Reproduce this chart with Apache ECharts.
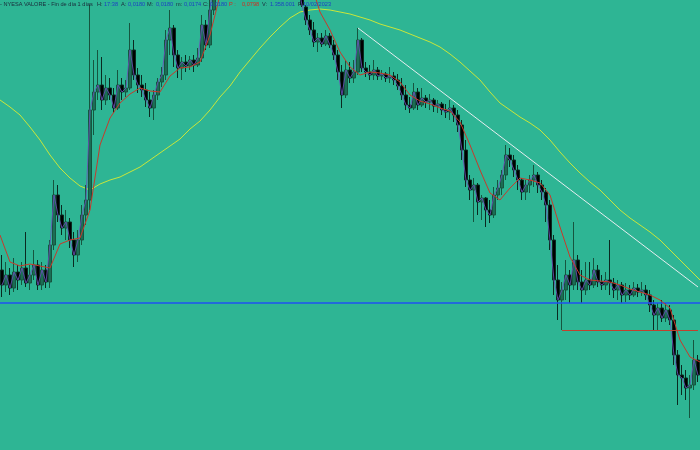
<!DOCTYPE html>
<html>
<head>
<meta charset="utf-8">
<script src="https://cdn.jsdelivr.net/npm/echarts@6/dist/echarts.min.js"></script>
<style>
html,body{margin:0;padding:0;background:#2eb594;}
#c{width:700px;height:450px;}
</style>
</head>
<body>
<div id="c"></div>
<script>
// Prices in units of 0.00001 EUR
const opens = [1905,1890,1900,1887,1903,1895,1907,1892,1900,1910,1890,1905,
1893,1930,1980,1960,1947,1953,1935,1920,1935,1960,1975,
2065,2083,2090,2075,2087,2080,2067,2090,2083,2087,2125,
2100,2090,2085,2075,2067,2080,2093,2100,2135,2147,2120,2107,2113,2109,2115,2110,2117,2150,2130,2165,
2195,2215,2235,2255,2270,2285,2295,2305,2300,2290,2295,2280,2270,2275,2260,2250,2245,2235,2225,2215,2205,
2190,
2168,2155,2145,2133,2137,2131,2139,2130,2120,2103,2080,2105,2097,2103,2135,2107,
2103,2100,2105,2099,2101,2097,2099,2095,2089,2080,2070,2067,2083,2070,2077,2073,2075,2069,2071,2065,2063,2067,2060,2050,2025,
1995,1985,1990,1973,1977,1965,1960,1980,1987,2000,2020,2015,2005,1995,1983,1990,1995,2000,1990,1983,1970,1935,1895,
1875,1885,1900,1890,1915,1893,1885,1895,1890,1905,1893,1890,1895,1892,1885,1890,1880,1885,1880,1887,1883,1885,1880,
1870,1860,1867,1857,1865,1855,1820,1800,1797,1787,1790,1815];
const closes = [1890,1900,1887,1903,1895,1907,1892,1900,1910,1890,1905,1893,
1930,1980,1960,1947,1953,1935,1920,1935,1960,1975,2065,
2083,2090,2075,2087,2080,2067,2090,2083,2087,2125,2100,
2090,2085,2075,2067,2080,2093,2100,2135,2147,2120,2107,2113,2109,2115,2110,2117,2150,2130,2165,2195,
2215,2235,2255,2270,2285,2295,2305,2300,2290,2295,2280,2270,2275,2260,2250,2245,2235,2225,2215,2205,2190,
2170,
2155,2145,2133,2137,2131,2139,2130,2120,2103,2080,2105,2097,2103,2135,2107,2103,
2100,2105,2099,2101,2097,2099,2095,2089,2080,2070,2067,2083,2070,2077,2073,2075,2069,2071,2065,2063,2067,2060,2050,2025,1995,
1985,1990,1973,1977,1965,1960,1980,1987,2000,2020,2015,2005,1995,1983,1990,1995,2000,1990,1983,1970,1935,1895,1875,
1885,1900,1890,1915,1893,1885,1895,1890,1905,1893,1890,1895,1892,1885,1890,1880,1885,1880,1887,1883,1885,1880,1870,
1860,1867,1857,1865,1855,1820,1800,1797,1787,1790,1815,1800];
const lows = [1878,1883,1880,1883,1885,1890,1888,1885,1895,1885,1885,1887,
1887,1925,1953,1940,1935,1927,1908,1913,1930,1950,1965,
2040,2075,2065,2070,2075,2062,2065,2075,2078,2085,2095,
2082,2078,2068,2058,2055,2075,2088,2095,2120,2108,2097,2095,2103,2105,2103,2108,2113,2125,2127,2160,
2185,2205,2225,2245,2260,2275,2285,2290,2280,2282,2270,2260,2262,2250,2240,2235,2225,2215,2205,2195,2180,
2168,
2150,2140,2128,2123,2128,2129,2127,2115,2095,2067,2077,2092,2092,2100,2103,2098,
2095,2095,2095,2095,2093,2092,2090,2085,2075,2065,2062,2065,2065,2068,2067,2065,2063,2062,2060,2057,2055,2053,2043,2015,1988,
1975,1953,1960,1955,1948,1952,1957,1975,1980,1995,2008,1998,1985,1975,1975,1982,1988,1982,1975,1953,1925,1880,1855,
1845,1875,1872,1885,1885,1872,1880,1885,1887,1888,1885,1885,1880,1877,1875,1872,1873,1875,1878,1878,1879,1875,1863,
1845,1845,1853,1853,1850,1810,1770,1780,1775,1757,1785,1793];
const highs = [1920,1913,1907,1917,1910,1913,1943,1910,1925,1915,1913,1910,
1935,1995,1990,1970,1965,1957,1943,1945,1970,1990,2170,
2115,2125,2118,2100,2097,2087,2105,2097,2095,2152,2135,
2107,2100,2092,2083,2085,2097,2108,2145,2165,2150,2125,2118,2120,2119,2120,2127,2160,2155,2185,2215,
2228,2248,2268,2282,2298,2308,2318,2315,2312,2306,2305,2290,2288,2285,2270,2262,2255,2245,2235,2225,2215,
2200,
2170,2160,2153,2142,2142,2145,2142,2135,2125,2110,2115,2113,2115,2147,2137,2113,
2110,2115,2108,2105,2103,2108,2103,2101,2097,2090,2078,2092,2087,2087,2080,2081,2077,2075,2073,2071,2075,2070,2065,2055,2035,
2000,1997,1992,1980,1978,1975,1988,1995,2005,2030,2027,2020,2010,1997,1995,2000,2010,2003,1995,1987,1975,1940,1910,
1893,1915,1905,1953,1920,1905,1913,1913,1917,1910,1900,1903,1935,1897,1895,1893,1892,1890,1893,1891,1893,1890,1885,
1875,1872,1875,1872,1870,1860,1825,1810,1805,1800,1835,1820];

// moving averages sampled on an evenly spaced grid of 71 points
const maRed = [1940,1913,1909,1911,1909,1907,1931,1935,1937,1965,2030,2057,2072,2081,2087,2084,2083,2099,2107,2108,
2113,2140,2180,2205,2225,2245,2260,2270,2275,2265,2235,2195,2163,2145,2123,2108,2100,2103,2102,2100,
2093,2080,2074,2071,2067,2064,2053,2030,2005,1982,1975,1987,1997,1995,1992,1980,1948,1918,1900,1895,
1894,1893,1890,1886,1883,1880,1875,1867,1835,1818,1813];
const maYellow = [2075,2068,2060,2048,2035,2020,2007,1997,1989,1985,1991,1995,1998,2003,2008,2015,2022,2029,2036,2046,
2054,2065,2078,2089,2103,2115,2127,2138,2148,2157,2163,2165,2166,2165,2163,2161,2158,2155,2151,2148,
2145,2141,2137,2133,2128,2121,2113,2104,2095,2083,2072,2065,2058,2052,2045,2035,2023,2012,2002,1993,
1985,1975,1965,1957,1950,1943,1935,1925,1915,1905,1895];

const supportLevel = 1872;   // blue horizontal
const lowLevel = 1845;       // red horizontal from candle 140
const lowStart = 140;
const trendStart = [89, 2147];
const trendEnd = [174, 1888];

const categories = opens.map((_, i) => String(i + 1));
const maCategories = maRed.map((_, i) => String(i));

const candles = opens.map((o, i) => [o, closes[i], lows[i], highs[i]]);

const chart = echarts.init(document.getElementById('c'), null, {renderer: 'canvas'});

const header = [
  {t: '- NYESA VALORE - Fin de día 1 días', x: 0, c: '#1b2a3a'},
  {t: 'H:', x: 97, c: '#1b2a3a'}, {t: '17:38', x: 104, c: '#1d3fc4'},
  {t: 'A:', x: 121, c: '#1b2a3a'}, {t: '0,0180', x: 128, c: '#1d3fc4'},
  {t: 'M:', x: 147, c: '#1b2a3a'}, {t: '0,0180', x: 156, c: '#1d3fc4'},
  {t: 'm:', x: 176, c: '#1b2a3a'}, {t: '0,0174', x: 184, c: '#1d3fc4'},
  {t: 'C:', x: 203, c: '#1b2a3a'}, {t: '0,0180', x: 210, c: '#1d3fc4'},
  {t: 'P :', x: 229, c: '#d42a1e'}, {t: '0,0798', x: 242, c: '#d42a1e'},
  {t: 'V:', x: 262, c: '#1b2a3a'}, {t: '1.358.001', x: 270, c: '#1d3fc4'},
  {t: 'F:', x: 298, c: '#1b2a3a'}, {t: '10/02/2023', x: 303, c: '#1d3fc4'}
];

chart.setOption({
  animation: false,
  backgroundColor: '#2eb594',
  grid: {left: 0, right: 0, top: 0, bottom: 0, containLabel: false},
  xAxis: [
    {type: 'category', data: categories, boundaryGap: true, show: false},
    {type: 'category', data: maCategories, boundaryGap: false, show: false}
  ],
  yAxis: {type: 'value', min: 1725, max: 2175, show: false, splitLine: {show: false}},
  graphic: header.map(h => ({
    type: 'text', left: h.x, top: 1, z: 100,
    style: {text: h.t, fill: h.c, font: '5.6px "Liberation Sans", Arial, sans-serif'}
  })),
  series: [
    {
      type: 'line', xAxisIndex: 1, data: maYellow, symbol: 'none', clip: true,
      lineStyle: {color: '#c9e63a', width: 1}, z: 2
    },
    {
      type: 'candlestick', xAxisIndex: 0, data: candles, barWidth: 3, clip: true, z: 3,
      itemStyle: {color: '#1b6d55', color0: '#000000', borderColor: '#16553f', borderColor0: '#0a2a20', borderWidth: 1},
      markLine: {
        silent: true, symbol: ['none', 'none'], label: {show: false}, animation: false,
        data: [
          [{coord: [lowStart, lowLevel], lineStyle: {color: '#c2412e', width: 1, type: 'solid'}}, {coord: [opens.length - 1, lowLevel]}],
          [{coord: trendStart, lineStyle: {color: '#e6eef0', width: 1, type: 'solid'}}, {coord: trendEnd}]
        ]
      }
    },
    {
      type: 'line', xAxisIndex: 0, data: closes, symbol: 'none', clip: true,
      lineStyle: {color: '#6a4fb8', width: 1, opacity: 0.85}, z: 4
    },
    {
      type: 'line', xAxisIndex: 1, data: maRed, symbol: 'none', clip: true,
      lineStyle: {color: '#c8392b', width: 1}, z: 5,
      markLine: {
        silent: true, symbol: ['none', 'none'], label: {show: false}, animation: false,
        data: [{yAxis: supportLevel, lineStyle: {color: '#1f52f2', width: 1.5, type: 'solid', opacity: 1}}]
      }
    }
  ]
});
</script>
</body>
</html>
